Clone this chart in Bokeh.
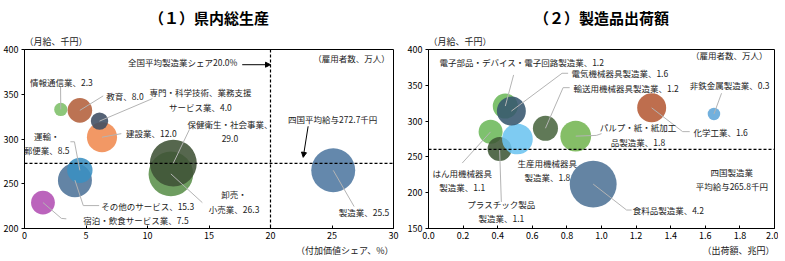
import math
from bokeh.plotting import figure
from bokeh.models import Label, Span, Arrow, NormalHead, FixedTicker, NumeralTickFormatter, Title
from bokeh.layouts import row
from bokeh.embed import file_html
from bokeh.resources import INLINE

FONT = "Noto Sans CJK JP"

# ---------------- data: (1) 県内総生産 ----------------
l_names = ["宿泊・飲食サービス業", "その他のサービス", "運輸・郵便業", "建設業", "教育",
           "情報通信業", "専門・科学技術、業務支援サービス業", "卸売・小売業", "保健衛生・社会事業", "製造業"]
l_share = [1.5, 4.1, 4.5, 6.3, 4.5, 2.95, 6.1, 11.9, 12.1, 25.1]      # 付加価値シェア %
l_wage = [229, 254, 265, 302, 332, 333, 320, 261, 273, 265]          # 月給 千円
l_emp = [7.5, 15.3, 8.5, 12.0, 8.0, 2.3, 4.0, 26.3, 29.0, 25.5]       # 雇用者数 万人
l_colors = ["#b24fb3", "#4d7399", "#3a8fc2", "#f08a50", "#b3603b",
            "#7dbf68", "#3e4c62", "#5a8f4a", "#3f5236", "#4f78a0"]
l_xticks = [0, 5, 10, 15, 20, 25, 30]
l_yticks = [200, 250, 300, 350, 400]
l_ref_share = 20.0
l_ref_wage = 272.7

# ---------------- data: (2) 製造品出荷額 ----------------
r_names = ["はん用機械器具製造業", "プラスチック製品製造業", "生産用機械器具製造業",
           "電子部品・デバイス・電子回路製造業", "電気機械器具製造業", "輸送用機械器具製造業",
           "パルプ・紙・紙加工品製造業", "化学工業", "非鉄金属製造業", "食料品製造業"]
r_ship = [0.359, 0.411, 0.514, 0.444, 0.479, 0.676, 0.851, 1.29, 1.65, 0.952]   # 出荷額 兆円
r_wage = [285, 261, 275, 321, 314, 290, 279, 318.5, 310, 212]                  # 月給 千円
r_emp = [1.1, 1.1, 1.8, 1.2, 1.6, 1.2, 1.8, 1.6, 0.3, 4.2]                      # 雇用者数 万人
r_colors = ["#6cb85a", "#3f5836", "#6cc4f0", "#6cb85a", "#37566e", "#4a6640",
            "#74b552", "#b55a36", "#5ea5d8", "#4f7396"]
r_xticks = [0.0, 0.2, 0.4, 0.6, 0.8, 1.0, 1.2, 1.4, 1.6, 1.8, 2.0]
r_yticks = [150, 200, 250, 300, 350, 400]
r_ref_wage = 260.5

# ---------------- layout: labels (text, x, y, align) and leader points ----------------
l_labels = [
    ("情報通信業、2.3", 3.0, 363.9, "center"),
    ("教育、8.0", 6.65, 348.5, "left"),
    ("専門・科学技術、業務支援\nサービス業、4.0", 14.3, 344.0, "center"),
    ("建設業、12.0", 8.26, 306.8, "left"),
    ("運輸・\n郵便業、8.5", 1.8, 295.5, "center"),
    ("その他のサービス、15.3", 6.23, 225.6, "left"),
    ("宿泊・飲食サービス業、7.5", 4.78, 209.9, "left"),
    ("保健衛生・社会事業、\n29.0", 16.7, 309.2, "center"),
    ("卸売・\n小売業、26.3", 17.04, 230.0, "center"),
    ("製造業、25.5", 27.6, 218.2, "center"),
    ("（雇用者数、万人）", 29.7, 391.0, "right"),
    ("全国平均製造業シェア20.0%", 17.3, 385.5, "right"),
    ("四国平均給与272.7千円", 25.06, 322.2, "center"),
]
l_leaders = [
    (5, [(2.93, 358.4)]),
    (4, [(6.4, 348.2)]),
    (6, [(10.4, 345.1)]),
    (3, [(7.87, 306.0)]),
    (2, [(3.73, 296.9), (4.06, 296.9)]),
    (1, [(6.07, 225.6), (4.78, 225.6)]),
    (0, [(3.4, 210.8), (3.0, 211.3)]),
    (8, [(13.4, 310.4)]),
    (7, [(14.46, 228.9)]),
    (9, [(26.8, 224.5)]),
]

r_labels = [
    ("電子部品・デバイス・電子回路製造業、1.2", 0.063, 382.7, "left"),
    ("電気機械器具製造業、1.6", 0.826, 366.8, "left"),
    ("輸送用機械器具製造業、1.2", 0.838, 345.7, "left"),
    ("非鉄金属製造業、0.3", 1.51, 351.1, "left"),
    ("化学工業、1.6", 1.532, 285.3, "left"),
    ("パルプ・紙・紙加工\n品製造業、1.8", 1.211, 281.1, "center"),
    ("生産用機械器具\n製造業、1.8", 0.687, 231.9, "center"),
    ("はん用機械器具\n製造業、1.1", 0.195, 218.1, "center"),
    ("プラスチック製品\n製造業、1.1", 0.421, 174.6, "center"),
    ("食料品製造業、4.2", 1.18, 175.8, "left"),
    ("（雇用者数、万人）", 1.96, 392.3, "right"),
    ("四国製造業\n平均給与265.8千円", 1.753, 218.8, "center"),
]
r_leaders = [
    (3, [(0.492, 364.5)]),
    (4, [(0.807, 366.8), (0.772, 366.8)]),
    (5, [(0.816, 346.7), (0.778, 346.7)]),
    (8, [(1.694, 338.9)]),
    (7, [(1.51, 285.3), (1.469, 285.3)]),
    (6, [(1.0, 282.5), (0.97, 280.0)]),
    (0, [(0.195, 241.4)]),
    (1, [(0.421, 187.1)]),
    (9, [(1.174, 175.8), (1.145, 175.8)]),
]


def style(p, xticks, yticks, fmt=None):
    p.xgrid.visible = False
    p.ygrid.visible = False
    p.outline_line_color = "black"
    p.outline_line_width = 1
    p.outline_line_alpha = 1
    for ax in (p.xaxis[0], p.yaxis[0]):
        ax.axis_line_color = "black"
        ax.major_tick_line_color = "black"
        ax.minor_tick_line_color = None
        ax.major_label_text_font = FONT
        ax.major_label_text_font_size = "9px"
        ax.major_label_text_color = "black"
    p.xaxis[0].ticker = FixedTicker(ticks=xticks)
    p.yaxis[0].ticker = FixedTicker(ticks=yticks)
    p.xaxis[0].major_tick_in = 3
    p.xaxis[0].major_tick_out = 0
    p.xaxis[0].major_label_standoff = 3
    p.yaxis[0].major_tick_in = 0
    p.yaxis[0].major_tick_out = 3
    p.yaxis[0].major_label_standoff = 3
    if fmt:
        p.xaxis[0].formatter = NumeralTickFormatter(format=fmt)


def build(xr, yr, fw, title, xtitle, xs, ys, emp, colors, k, labels, leaders, mbl, mbr):
    p = figure(x_range=xr, y_range=yr, frame_width=fw, frame_height=179,
               min_border_top=0, min_border_bottom=0, min_border_left=mbl, min_border_right=mbr,
               output_backend="svg", toolbar_location=None, background_fill_color="white",
               border_fill_color="white", title=None)
    sizes = [k * math.sqrt(v) for v in emp]
    for x, y, s, c in zip(xs, ys, sizes, colors):
        p.scatter([x], [y], size=s, fill_color=c, fill_alpha=0.88, line_color=None)
    lx, ly = [], []
    for idx, pts in leaders:
        lx.append([q[0] for q in pts] + [xs[idx]])
        ly.append([q[1] for q in pts] + [ys[idx]])
    p.multi_line(lx, ly, line_color="#b4b4b4", line_width=1)
    for txt, x, y, al in labels:
        p.add_layout(Label(x=x, y=y, text=txt, text_align=al, text_baseline="middle",
                           text_font=FONT, text_font_size="8.5px", text_color="#222222",
                           text_line_height=1.2))
    # titles: first added is nearest to the frame
    p.add_layout(Title(text="（月給、千円）", align="left", text_font=FONT,
                       text_font_size="9px", text_font_style="normal", text_color="#222222",
                       standoff=3), "above")
    p.add_layout(Title(text=title, align="center", text_font=FONT,
                       text_font_size="15px", text_font_style="bold", text_color="black",
                       standoff=8), "above")
    p.add_layout(Title(text=xtitle, align="right", text_font=FONT,
                       text_font_size="9px", text_font_style="normal", text_color="#222222",
                       standoff=0), "below")
    return p


p1 = build((0, 30), (200, 400), 369, "（１）県内総生産", "（付加価値シェア、%）",
           l_share, l_wage, l_emp, l_colors, 8.7, l_labels, l_leaders, 5, 11)
style(p1, l_xticks, l_yticks)
p1.add_layout(Span(location=l_ref_share, dimension="height", line_color="black",
                   line_dash="3 2", line_width=1.2))
p1.add_layout(Span(location=l_ref_wage, dimension="width", line_color="black",
                   line_dash="3 2", line_width=1.2))
p1.add_layout(Arrow(end=NormalHead(size=5, fill_color="black", line_color="black"),
                    x_start=17.7, y_start=383, x_end=l_ref_share, y_end=383,
                    line_color="black", line_width=1))
p1.add_layout(Arrow(end=NormalHead(size=5, fill_color="black", line_color="black"),
                    x_start=23.06, y_start=314.2, x_end=22.66, y_end=279.5,
                    line_color="black", line_width=1))

p2 = build((0, 2), (150, 400), 346, "（２）製造品出荷額", "（出荷額、兆円）",
           r_ship, r_wage, r_emp, r_colors, 22.9, r_labels, r_leaders, 5, 4)
style(p2, r_xticks, r_yticks, fmt="0.0")
p2.add_layout(Span(location=r_ref_wage, dimension="width", line_color="black",
                   line_dash="3 2", line_width=1.2))

layout = row(p1, p2, spacing=0)
open("out.html", "w").write(file_html(layout, INLINE))
